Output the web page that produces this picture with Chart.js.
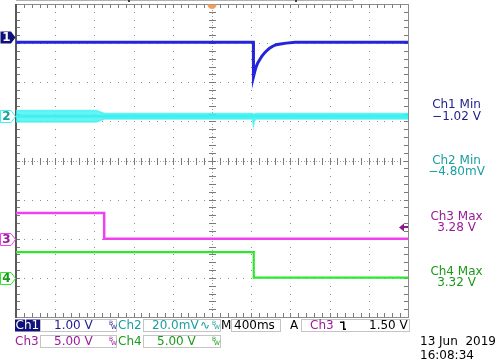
<!DOCTYPE html>
<html><head><meta charset="utf-8">
<script src="https://cdn.jsdelivr.net/npm/chart.js@4.4.1/dist/chart.umd.min.js"></script>
<style>html,body{margin:0;padding:0;background:#fff;overflow:hidden}canvas{display:block}</style>
</head><body>
<canvas id="c" width="500" height="363"></canvas>
<script>
// ---- scope settings ----
const timeRange = [-2000, 2000];          // ms, 400 ms/div
const msPerDiv = 400;
const channelNames = ['Ch1', 'Ch2', 'Ch3', 'Ch4'];
const voltsPerDiv = [1, 20, 5, 5];        // Ch2 in mV
const groundDiv = [3.16, 1.13, -2.0, -3.0];
const triggerLevel = 1.5;                 // Ch3, V

// ---- waveforms (time ms, value) ----
const ch1Times = [-2000, 422, 423, 437, 451, 468, 485, 510, 536, 560, 587, 620, 655, 700, 757, 850, 2000];
const ch1Volts = [-0.135, -0.135, -1.02, -0.88, -0.76, -0.66, -0.59, -0.49, -0.41, -0.35, -0.29, -0.24, -0.20, -0.18, -0.16, -0.14, -0.135];
const ch2Times = [-2000, -1180, -1100, 415, 423, 432, 445, 2000];
const ch2High = [2.9, 2.9, 1.4, 1.4, 0.8, 1.1, 1.4, 1.4];   // mV, noise envelope
const ch2Low = [-2.9, -2.9, -1.4, -1.4, -4.8, -2.5, -1.4, -1.4];
const ch3Times = [-2000, -1100, -1100, 2000];
const ch3Volts = [3.28, 3.28, 0.0, 0.0];
const ch4Times = [-2000, 426, 426, 2000];
const ch4Volts = [3.30, 3.30, 0.02, 0.02];

// ---- texts ----
const measLines = [['Ch1 Min', '\u22121.02 V'], ['Ch2 Min', '\u22124.80mV'], ['Ch3 Max', '3.28 V'], ['Ch4 Max', '3.32 V']];
const scaleTexts = ['1.00 V', '20.0mV', '5.00 V', '5.00 V'];
const timebaseText = '400ms';
const trigText = ['A', 'Ch3', '1.50 V'];
const dateText = ['13 Jun  2019', '16:08:34'];

const lineColors = ['#2424dc', '#3ef0f0', '#f040f0', '#2ee62e'];
const textColors = ['#1c1c8c', '#1a9e9e', '#9a1a9a', '#1a9a1a'];

const pts = (t, v) => t.map((x, i) => ({x: x, y: v[i]}));
const chScale = i => ({type: 'linear', display: false,
  min: (-4 - groundDiv[i]) * voltsPerDiv[i], max: (4 - groundDiv[i]) * voltsPerDiv[i]});

const FONT = '12px "DejaVu Sans"';

const scopePlugin = {
  id: 'scope',
  beforeDatasetsDraw(chart) {
    const {ctx, chartArea: a, scales} = chart;
    const xs = scales.x, yg = scales.yg;
    const L = Math.round(a.left), R = Math.round(a.right), T = Math.round(a.top), B = Math.round(a.bottom);
    const px = v => Math.round(xs.getPixelForValue(v));
    const py = v => Math.round(yg.getPixelForValue(v));
    ctx.save();
    // dotted grid
    ctx.fillStyle = '#8c8c8c';
    for (let k = 1; k < 10; k++) {
      if (k === 5) continue;
      const x = px(timeRange[0] + k * msPerDiv);
      for (let j = 1; j < 40; j++) ctx.fillRect(x, py(-4 + j * 0.2), 1, 1);
    }
    for (let k = 1; k < 8; k++) {
      if (k === 4) continue;
      const y = py(-4 + k);
      for (let j = 1; j < 50; j++) ctx.fillRect(px(timeRange[0] + j * msPerDiv / 5), y, 1, 1);
    }
    // center lines
    const cx = px(0), cy = py(0);
    ctx.fillStyle = '#9a9a9a';
    for (let x = L; x < R; x += 3) ctx.fillRect(x, cy, 1, 1);
    for (let y = T; y < B; y += 3) ctx.fillRect(cx, y, 1, 1);
    ctx.fillStyle = '#7a7a7a';
    for (let j = 1; j < 50; j++) ctx.fillRect(px(timeRange[0] + j * msPerDiv / 5), cy - 3, 1, 7);
    for (let j = 1; j < 40; j++) ctx.fillRect(cx - 3, py(-4 + j * 0.2), 7, 1);
    // border ticks
    for (let j = 1; j < 50; j++) {
      const x = px(timeRange[0] + j * msPerDiv / 5);
      ctx.fillRect(x, T, 1, 4);
      ctx.fillRect(x, B - 4, 1, 4);
    }
    for (let j = 1; j < 40; j++) {
      const y = py(-4 + j * 0.2);
      ctx.fillRect(L, y, 4, 1);
      ctx.fillRect(R - 4, y, 4, 1);
    }
    // border
    ctx.fillStyle = '#8a8a8a';
    ctx.fillRect(L, T, R - L + 1, 1);
    ctx.fillRect(L, B, R - L + 1, 1);
    ctx.fillRect(R, T, 1, B - T + 1);
    ctx.fillStyle = '#5a5a5a';
    ctx.fillRect(L - 1, T, 2, B - T + 1);
    // record indicator on top
    ctx.fillStyle = '#b0b0b0';
    ctx.fillRect(L, 0, 337, 1);
    ctx.fillStyle = '#404040';
    ctx.fillRect(128, 0, 2, 2);
    ctx.fillRect(295, 0, 2, 2);
    ctx.restore();
  },
  afterDatasetsDraw(chart) {
    const {ctx, chartArea: a, scales} = chart;
    ctx.save();
    // trigger position marker
    const cx = scales.x.getPixelForValue(0);
    ctx.fillStyle = '#f2a060';
    ctx.beginPath();
    ctx.arc(cx, a.top + 0.5, 4.5, 0, Math.PI);
    ctx.fill();
    // trigger level arrow (Ch3)
    const ty = Math.round(scales.y3.getPixelForValue(triggerLevel)) + 0.5;
    const R = Math.round(a.right);
    ctx.fillStyle = '#8b1a8b';
    ctx.beginPath();
    ctx.moveTo(R - 9, ty); ctx.lineTo(R - 4, ty - 4); ctx.lineTo(R - 4, ty + 4); ctx.closePath(); ctx.fill();
    ctx.fillRect(R - 5, ty - 1.5, 5, 2);
    ctx.restore();
  },
  afterDraw(chart) {
    const {ctx, scales} = chart;
    ctx.save();
    ctx.textBaseline = 'middle';
    // channel ground markers
    const ids = ['y1', 'y2', 'y3', 'y4'];
    ids.forEach((id, i) => {
      const y = Math.round(scales[id].getPixelForValue(0)) + 0.5;
      ctx.beginPath();
      ctx.moveTo(0.5, y - 6); ctx.lineTo(11, y - 6); ctx.lineTo(15.5, y); ctx.lineTo(11, y + 6); ctx.lineTo(0.5, y + 6); ctx.closePath();
      if (i === 0) { ctx.fillStyle = '#10107a'; ctx.fill(); ctx.fillStyle = '#fff'; }
      else { ctx.fillStyle = '#fff'; ctx.fill(); ctx.strokeStyle = lineColors[i]; ctx.lineWidth = 1; ctx.stroke(); ctx.fillStyle = textColors[i]; }
      ctx.font = 'bold 12px "DejaVu Sans"';
      ctx.textAlign = 'center';
      ctx.fillText(String(i + 1), 6.5, y + 0.5);
    });
    // measurements
    ctx.font = FONT;
    ctx.textAlign = 'center';
    const measY = [105, 160.7, 216.5, 271.7];
    measLines.forEach((m, i) => {
      ctx.fillStyle = textColors[i];
      ctx.fillText(m[0], 456.5, measY[i]);
      ctx.fillText(m[1], 456.5, measY[i] + 11.5);
    });
    // status bar
    const r1 = 325.5, r2 = 341.5;
    ctx.strokeStyle = '#c4c4c4'; ctx.lineWidth = 1;
    const box = (x0, x1, yc) => ctx.strokeRect(x0 + 0.5, yc - 6, x1 - x0, 12);
    box(40, 116, r1); box(143, 220, r1); box(231, 280, r1); box(301, 409, r1);
    box(40, 116, r2); box(143, 220, r2);
    ctx.fillStyle = '#10107a';
    ctx.fillRect(15, r1 - 6, 25, 12);
    ctx.textAlign = 'left';
    ctx.fillStyle = '#fff'; ctx.fillText(channelNames[0], 15.5, r1);
    ctx.fillStyle = textColors[0]; ctx.fillText(scaleTexts[0], 54, r1);
    ctx.fillStyle = textColors[1]; ctx.fillText(channelNames[1], 118, r1);
    ctx.fillText(scaleTexts[1], 152, r1);
    ctx.fillText('\u223F', 200, r1);
    ctx.fillStyle = textColors[2]; ctx.fillText(channelNames[2], 15, r2);
    ctx.fillText(scaleTexts[2], 54, r2);
    ctx.fillStyle = textColors[3]; ctx.fillText(channelNames[3], 118, r2);
    ctx.fillText(scaleTexts[3], 157, r2);
    // bandwidth marks
    ctx.font = '6px "DejaVu Sans"';
    const bw = (x, yc, col) => { ctx.fillStyle = col; ctx.fillText('B', x, yc - 2); ctx.fillText('W', x + 2, yc + 2); };
    bw(109, r1, textColors[0]); bw(212, r1, textColors[1]);
    bw(109, r2, textColors[2]); bw(212, r2, textColors[3]);
    ctx.font = FONT;
    ctx.fillStyle = '#000';
    ctx.fillText('M', 221, r1);
    ctx.fillText(timebaseText, 234, r1);
    ctx.fillText(trigText[0], 290, r1);
    ctx.fillStyle = textColors[2]; ctx.fillText(trigText[1], 310, r1);
    ctx.fillStyle = '#000';
    ctx.fillText(trigText[2], 369, r1);
    // falling edge symbol
    ctx.fillRect(340, r1 - 4, 4, 1.5);
    ctx.fillRect(343, r1 - 4, 1.5, 8);
    ctx.fillRect(343, r1 + 3, 3, 1.5);
    // date/time
    ctx.fillText(dateText[0], 420, 342.3);
    ctx.fillText(dateText[1], 420, 356);
    ctx.restore();
  }
};

const line = (data, axis, color, width, extra) => Object.assign({
  data: data, yAxisID: axis, borderColor: color, backgroundColor: color,
  borderWidth: width, pointRadius: 0, tension: 0, fill: false
}, extra || {});

new Chart(document.getElementById('c'), {
  type: 'line',
  data: {
    datasets: [
      line(pts(ch2Times, ch2High), 'y2', 'rgba(62,240,240,0.75)', 1.5),
      line(pts(ch2Times, ch2Low), 'y2', 'rgba(62,240,240,0.75)', 1.5, {fill: '-1', backgroundColor: 'rgba(62,240,240,0.8)'}),
      line(pts(ch2Times, ch2Times.map(() => 0)), 'y2', lineColors[1], 3),
      line(pts(ch1Times, ch1Volts), 'y1', lineColors[0], 3),
      line(pts(ch3Times, ch3Volts), 'y3', lineColors[2], 2.5),
      line(pts(ch4Times, ch4Volts), 'y4', lineColors[3], 2.2)
    ]
  },
  options: {
    responsive: false, animation: false, devicePixelRatio: 1,
    layout: {padding: {left: 16, right: 92, top: 4, bottom: 46}},
    plugins: {legend: {display: false}, tooltip: {enabled: false}, filler: {propagate: false}},
    scales: {
      x: {type: 'linear', display: false, min: timeRange[0], max: timeRange[1]},
      yg: {type: 'linear', display: false, min: -4, max: 4},
      y1: chScale(0), y2: chScale(1), y3: chScale(2), y4: chScale(3)
    }
  },
  plugins: [scopePlugin]
});
</script>
</body></html>
